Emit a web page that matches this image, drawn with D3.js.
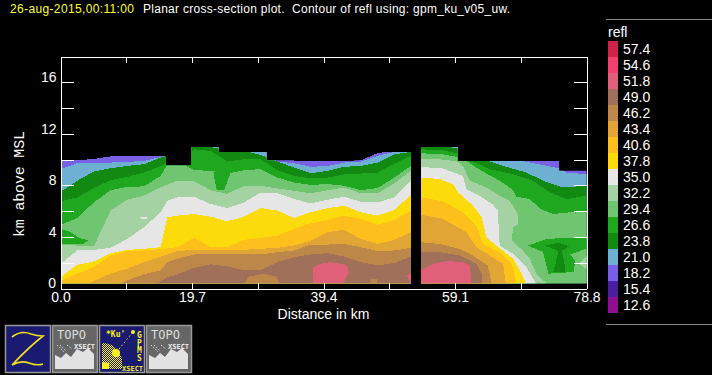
<!DOCTYPE html>
<html>
<head>
<meta charset="utf-8">
<script src="https://d3js.org/d3.v7.min.js"></script>
<style>
  html, body { margin: 0; padding: 0; background: #000; overflow: hidden; }
  text { font-family: "Liberation Sans", sans-serif; font-size: 14px; fill: #fff; white-space: pre; }
</style>
</head>
<body>
<script>
// legend
const levels = [12.6, 15.4, 18.2, 21.0, 23.8, 26.6, 29.4, 32.2, 35.0, 37.8, 40.6, 43.4, 46.2, 49.0, 51.8, 54.6, 57.4];
const levelColors = ["#900f90", "#4a1f9e", "#7a60e4", "#6eb0d2", "#128a12", "#1fa81f", "#70c670", "#a4d2a2",
  "#e6e6e6", "#fcdb0a", "#fcbf1c", "#e0a535", "#bc8748", "#a0705a", "#e0607a", "#f0406e", "#cf2449"];

const xTicks = [0, 9.85, 19.7, 29.55, 39.4, 49.25, 59.1, 68.95, 78.8];
const xLabels = [0, 19.7, 39.4, 59.1, 78.8];
const yTicks = [0, 2, 4, 6, 8, 10, 12, 14, 16, 18];
const yLabels = [0, 4, 8, 12, 16];

// section west of the gap: height in km of each contour level at every station
const westKm = [0, 2.5, 5, 7.5, 10, 12.5, 15, 16, 17.5, 20, 22.5, 25, 27.5, 30, 32.5, 35, 37.5, 40, 42.5, 45, 47.5, 50, 52.5];
const west18 = [9.95, 9.95, 10.05, 10.25, 10.27, 10.27, 10.3, 10.3, 10.3, 11.2, 11.2, 11.2, 11.2, 11.2, 11, 9.9, 9.9, 9.9, 9.9, 9.95, 10.5, 10.7, 10.7];
const west21 = [9.26, 9.72, 9.77, 9.77, 9.82, 9.9, 10.2, 10.3, 10.67, 11.2, 11.2, 11.2, 11.2, 11.2, 9.85, 9.72, 9.44, 9.51, 9.77, 9.85, 10.29, 10.6, 10.6];
const west23 = [7.5, 8.36, 9.08, 9.33, 9.51, 9.64, 10.16, 10.3, 10.4, 11.1, 10.98, 10.7, 10.7, 10.36, 9.85, 9.38, 8.94, 9.13, 9.44, 9.51, 9.77, 10.41, 10.6];
const west26 = [6.76, 7.07, 7.79, 8.41, 8.66, 9, 9.51, 9.7, 9.4, 10.8, 10.67, 9.85, 10.03, 10.03, 9.18, 8.74, 8.54, 8.61, 8.87, 8.92, 9, 9.69, 10.29];
const west29 = [4.93, 5.47, 6.68, 7.63, 7.89, 7.92, 8.74, 9.6, 9.9, 9.18, 9.13, 8.9, 9.18, 9.26, 8.61, 8.22, 8.04, 8.1, 7.97, 7.63, 7.79, 8.61, 9.51];
const west32 = [3.41, 3.33, 3.28, 6.04, 6.89, 7.2, 7.84, 8.05, 8.36, 8.3, 7.63, 7.33, 7.97, 7.97, 7.76, 7.58, 7.38, 7.63, 7.84, 7.38, 7.38, 8.15, 9.13];
const west35 = [1.92, 2.95, 3, 3.15, 3.85, 4.75, 5.91, 6.81, 7.07, 7.12, 6.55, 6.24, 6.68, 7.45, 7.38, 6.94, 6.6, 6.89, 7.12, 6.73, 6.68, 7.07, 8.36];
const west37 = [0.89, 1.84, 2.1, 2.74, 3, 3.08, 3.21, 5.52, 5.65, 5.78, 5.57, 5.21, 5.57, 6.24, 6.04, 5.47, 5.91, 6.24, 6.42, 5.91, 5.65, 6.09, 7.27];
const west40 = [0.58, 1.15, 1.66, 2.56, 2.87, 2.95, 3.05, 3.12, 3.21, 3.93, 3.21, 3.21, 3.77, 3.93, 4.1, 4.62, 5.06, 5.32, 5.65, 5.4, 4.93, 5.32, 6.04];
const west43 = [0, 0, 0.58, 1.15, 1.53, 2.05, 2.48, 2.65, 2.9, 3, 3, 3, 3, 3.08, 3.15, 3.33, 3.72, 4.37, 4.55, 3.85, 3.46, 3.77, 4.37];
const west46 = [0, 0, 0, 0, 0.63, 1.1, 1.41, 2.05, 2.3, 2.64, 2.69, 2.64, 2.64, 2.64, 2.82, 2.95, 3.41, 3.41, 3.46, 3.21, 2.9, 2.95, 3.15];
const west49 = [0, 0, 0, 0, 0, 0, 0.58, 0.85, 1.1, 1.6, 1.87, 1.71, 1.41, 1.41, 2.05, 2.43, 2.64, 2.74, 2.49, 2.05, 1.79, 1.97, 2.49];

// section east of the gap: boundaries run steep here so each level has its own stations
const east18Km = [54, 78.8];
const east18 = [11.2, 11.2];
const east21Km = [54, 59.5, 68.8, 70.8, 74.7, 75.8, 78.8];
const east21 = [11.2, 11.2, 9.95, 9.72, 9.33, 8.99, 8.87];
const east23Km = [54, 57.8, 58.3, 59.5, 60.8, 62.8, 64.1, 66.3, 69.8, 72.3, 75.3, 78.8];
const east23 = [11.2, 11.2, 10.98, 10.85, 10.67, 10.03, 9.9, 9.51, 9, 8.36, 7.84, 7.97];
const east26Km = [54, 57.3, 59.5, 61.1, 62.8, 64.3, 67.8, 70.8, 73.3, 75.8, 78.8];
const east26 = [10.8, 10.72, 10.46, 9.9, 9.64, 9.26, 8.87, 8.36, 7.46, 6.94, 7.2];
const east29Km = [54, 57.3, 59.5, 60.8, 62.3, 63.8, 65.8, 67.8, 68.3, 70.3, 71.9, 73.8, 78.8];
const east29 = [10.49, 10.41, 10.2, 9.9, 9.38, 8.92, 8.36, 7.64, 7.12, 6.94, 6.17, 5.78, 6.04];
const east32Km = [54, 57.3, 59.5, 60.3, 61.3, 63.8, 65.8, 67.3, 68.5, 68.8, 70.3, 71.3, 72.8];
const east32 = [10.08, 10, 9.85, 9.51, 8.36, 7.84, 7.2, 6.81, 5.78, 3.21, 2.31, 1.15, 0.4];
const east35Km = [54, 57.3, 60.3, 60.8, 62.8, 64.8, 65.5, 65.8, 67.8, 69.8, 71.2];
const east35 = [9.43, 9.31, 8.74, 7.71, 7.2, 6.5, 6.04, 3.33, 2.69, 1.66, 0.4];
const east37Km = [54, 56.8, 58.8, 59.6, 61.8, 63.1, 63.8, 65.3, 67.8, 69.1, 69.7];
const east37 = [8.61, 8.49, 8.1, 7.45, 6.42, 5.52, 3.98, 3.33, 2.31, 1.15, 0.4];
const east40Km = [54, 57.3, 60.3, 62.3, 63.3, 65.8, 67.6, 68.3];
const east40 = [7.07, 6.76, 5.91, 4.88, 3.46, 2.82, 1.92, 0.4];
const east43Km = [54, 57.3, 60.8, 62.3, 64.3, 66.3, 66.7];
const east43 = [5.73, 5.4, 4.37, 3.21, 2.56, 1.92, 0.4];
const east46Km = [54, 56.8, 59.8, 61.8, 64, 64.6];
const east46 = [3.59, 3.46, 3.08, 2.56, 1.79, 0.4];
const east49Km = [54, 56.8, 59.8, 62.3, 63.1, 63.2];
const east49 = [2.82, 2.82, 2.56, 1.92, 1.15, 0.4];
const east51Km = [54, 55.8, 57.9, 60.3, 61.3, 61.6];
const east51 = [1.41, 1.92, 2.13, 2.05, 1.79, 0.4];

// top of the echo, a step per scan block
const westTopKm = [0, 15.8, 19.6, 23.7, 30.9, 44.8, 52.5];
const westTop = [11.5, 9.54, 10.98, 10.6, 9.95, 10.6, 10.6];
const eastTopKm = [54, 59.5, 74.7, 78.8];
const eastTop = [10.98, 9.9, 9.13, 9.13];

// closed pockets that break the layering: [drawn after level, own level, km, height]
const pockets = [
  [29.4, 26.6, [0, 1.4, 2.9, 4.2, 3.4, 0], [4.65, 4.4, 3.9, 3.72, 3.46, 3.41]],
  [29.4, 26.6, [22.9, 23.4, 24.5, 25.6], [9, 7.64, 7.64, 9.13]],
  [29.4, 26.6, [70, 72.8, 78.8, 78.8, 76.3, 77.1, 76.9, 73.1, 72.3], [3.33, 3.85, 3.98, 3.08, 2.64, 2.18, 1.28, 1.15, 2.82]],
  [29.4, 23.8, [72.6, 74.6, 76.3, 75.1, 75.6, 75.6, 73.8, 74.1, 74.6], [3.33, 3.54, 3.28, 2.95, 1.66, 1.28, 1.28, 1.79, 2.9]],
  [29.4, 32.2, [78.8, 77.6, 78.8], [2.49, 1.92, 1.53]],
  [32.2, 29.4, [68.9, 67.8, 67.6, 68.9], [5.1, 4.75, 3.72, 3.1]],
  [35.0, 35.0, [11.1, 12.9, 12.9], [5.47, 5.55, 5.4]],
  [49.0, 46.2, [27.6, 28.1, 30.4, 32.4, 32.8], [0.4, 0.89, 1.15, 0.89, 0.4]],
  [49.0, 46.2, [46.4, 46.5, 47.4, 47.4], [0.4, 0.71, 0.71, 0.4]],
  [49.0, 51.8, [37.8, 37.9, 38.9, 40.4, 42.9, 43.2, 42.6, 42.4], [0.4, 1.66, 1.92, 2.05, 1.84, 1.28, 0.63, 0.4]],
  [49.0, 51.8, [51.8, 52.5, 52.5], [1.02, 1.15, 0.4]]
];

const westLayers = [[18.2, west18], [21.0, west21], [23.8, west23], [26.6, west26], [29.4, west29], [32.2, west32],
  [35.0, west35], [37.8, west37], [40.6, west40], [43.4, west43], [46.2, west46], [49.0, west49]];
const eastLayers = [[18.2, east18Km, east18], [21.0, east21Km, east21], [23.8, east23Km, east23], [26.6, east26Km, east26],
  [29.4, east29Km, east29], [32.2, east32Km, east32], [35.0, east35Km, east35], [37.8, east37Km, east37],
  [40.6, east40Km, east40], [43.4, east43Km, east43], [46.2, east46Km, east46], [49.0, east49Km, east49], [51.8, east51Km, east51]];

const width = 712;
const height = 375;
const bottomKm = 0.4;

const x = d3.scaleLinear().domain([0, 78.8]).range([60.5, 586.5]);
const y = d3.scaleLinear().domain([0, 18]).range([288.5, 56.5]);
const color = d3.scaleOrdinal().domain(levels).range(levelColors);

const svg = d3.select('body').append('svg')
  .attr('width', width)
  .attr('height', height)
  .style('display', 'block');

const zip = (km, h) => km.map((d, i) => [d, h[i]]);

const fillArea = d3.area()
  .x(d => x(d[0]))
  .y0(y(0))
  .y1(d => y(d[1]));
const stepArea = d3.area()
  .curve(d3.curveStepAfter)
  .x(d => x(d[0]))
  .y0(y(bottomKm))
  .y1(d => y(d[1]));
const outline = d3.line().x(d => x(d[0])).y(d => y(d[1]));

svg.append('clipPath').attr('id', 'west-clip')
  .append('path').attr('d', stepArea(zip(westTopKm, westTop)));
svg.append('clipPath').attr('id', 'east-clip')
  .append('path').attr('d', stepArea(zip(eastTopKm, eastTop)));

const plot = svg.append('g').attr('shape-rendering', 'crispEdges');
const westG = plot.append('g').attr('clip-path', 'url(#west-clip)');
const eastG = plot.append('g').attr('clip-path', 'url(#east-clip)');

const drawPockets = (level) => {
  pockets.filter(p => p[0] === level).forEach(p => {
    const g = p[2][0] < 53 ? westG : eastG;
    g.append('path')
      .attr('d', outline(zip(p[2], p[3])) + 'Z')
      .attr('fill', color(p[1]));
  });
};

levels.forEach(level => {
  const w = westLayers.find(d => d[0] === level);
  if (w) {
    westG.append('path').attr('d', fillArea(zip(westKm, w[1]))).attr('fill', color(level));
  }
  const e = eastLayers.find(d => d[0] === level);
  if (e) {
    eastG.append('path').attr('d', fillArea(zip(e[1], e[2]))).attr('fill', color(level));
  }
  drawPockets(level);
});

// frame, ticks on all four sides pointing in
const styleAxis = (g) => {
  g.selectAll('path, line').attr('stroke', '#fff').attr('shape-rendering', 'crispEdges');
  g.selectAll('text').attr('fill', '#fff').style('font-size', '14px')
    .style('font-family', '"Liberation Sans", sans-serif');
};
const xFormat = d => {
  const hit = xLabels.find(v => v === d);
  return hit === undefined ? '' : hit.toFixed(1);
};
const yFormat = d => (yLabels.includes(d) ? d : '');

svg.append('g')
  .attr('transform', `translate(0, ${y(0)})`)
  .call(d3.axisBottom(x).tickValues(xTicks).tickSizeInner(-6).tickSizeOuter(0).tickPadding(4).tickFormat(xFormat))
  .call(styleAxis);
svg.append('g')
  .attr('transform', `translate(0, ${y(18)})`)
  .call(d3.axisTop(x).tickValues(xTicks).tickSizeInner(-6).tickSizeOuter(0).tickFormat(''))
  .call(styleAxis);
svg.append('g')
  .attr('transform', `translate(${x(0)}, 0)`)
  .call(d3.axisLeft(y).tickValues(yTicks.slice(1, -1)).tickSizeInner(-13).tickSizeOuter(0).tickPadding(4).tickFormat(yFormat))
  .call(styleAxis)
  .call(g => g.selectAll('text').attr('dy', '-0.05em'));
svg.append('g')
  .attr('transform', `translate(${x(78.8)}, 0)`)
  .call(d3.axisRight(y).tickValues(yTicks.slice(1, -1)).tickSizeInner(-13).tickSizeOuter(0).tickFormat(''))
  .call(styleAxis);
// the zero label sits alone, there is no tick mark for it
svg.append('text')
  .attr('x', 56).attr('y', 288)
  .attr('text-anchor', 'end')
  .text('0');

svg.append('text')
  .attr('x', 323.5).attr('y', 319)
  .attr('text-anchor', 'middle')
  .text('Distance in km');

svg.append('text')
  .attr('transform', 'translate(24, 184) rotate(-90)')
  .attr('text-anchor', 'middle')
  .attr('textLength', 106)
  .style('font-family', '"Liberation Mono", monospace')
  .style('font-size', '15px')
  .text('km above MSL');

// title
svg.append('text')
  .attr('x', 10).attr('y', 13)
  .attr('textLength', 124)
  .style('font-size', '12px')
  .style('fill', '#ffff33')
  .text('26-aug-2015,00:11:00');
svg.append('text')
  .attr('x', 143).attr('y', 13)
  .attr('textLength', 367)
  .style('font-size', '12px')
  .text('Planar cross-section plot.  Contour of refl using: gpm_ku_v05_uw.');

// color key
const keyY = d3.scaleBand().domain(levels.slice().reverse()).range([41, 313]);
[19, 324].forEach(v => {
  svg.append('line')
    .attr('x1', 606).attr('x2', width)
    .attr('y1', v + 0.5).attr('y2', v + 0.5)
    .attr('stroke', '#888');
});
svg.append('text').attr('x', 608).attr('y', 37).text('refl');
const key = svg.append('g').selectAll('g').data(keyY.domain()).join('g');
key.append('rect')
  .attr('x', 608)
  .attr('y', d => keyY(d))
  .attr('width', 10)
  .attr('height', keyY.bandwidth())
  .attr('fill', d => color(d));
key.append('text')
  .attr('x', 623)
  .attr('y', d => keyY(d) + 13)
  .text(d => d.toFixed(1));

// toolbar buttons under the plot
const buttons = [
  { left: 5, fill: '#1a1a70', kind: 'z' },
  { left: 52, fill: '#666', kind: 'topo' },
  { left: 99, fill: '#1a1a70', kind: 'gpm' },
  { left: 146, fill: '#666', kind: 'topo' }
];
const smallText = (g, tx, ty, s, size, fill) => g.append('text')
  .attr('x', tx).attr('y', ty)
  .style('font-size', size + 'px')
  .style('font-family', '"DejaVu Sans Mono", monospace')
  .style('font-weight', 'bold')
  .style('fill', fill)
  .text(s);

const dither = svg.append('pattern').attr('id', 'dither')
  .attr('width', 2).attr('height', 2).attr('patternUnits', 'userSpaceOnUse');
dither.append('rect').attr('width', 1).attr('height', 1).attr('fill', '#f8f020');
dither.append('rect').attr('x', 1).attr('y', 1).attr('width', 1).attr('height', 1).attr('fill', '#f8f020');

buttons.forEach(b => {
  const g = svg.append('g').attr('transform', `translate(${b.left}, 325)`);
  g.append('rect').attr('x', 0.5).attr('y', 0.5).attr('width', 45).attr('height', 47)
    .attr('fill', b.fill).attr('stroke', '#999').attr('stroke-width', 1.5);
  if (b.kind === 'z') {
    g.append('path')
      .attr('d', 'M7 12 Q16 5 26 9 Q32 11 38 11 Q24 22 7 40 Q16 35 24 38 Q32 41 38 39')
      .attr('fill', 'none').attr('stroke', '#f0e020').attr('stroke-width', 1.6);
  }
  if (b.kind === 'topo') {
    g.append('path')
      .attr('d', 'M3 44 L3 30 L9 33 L14 28 L19 32 L25 24 L31 27 L36 23 L42 29 L42 44 Z')
      .attr('fill', '#e2e2e2');
    smallText(g, 5, 14, 'TOPO', 12, '#dcdcdc').style('font-weight', 'normal');
    smallText(g, 22, 24, 'XSECT', 7, '#eee');
    g.append('path').attr('d', 'M5 20 L12 27 M8 20 L14 26 M15 20 L20 24').attr('stroke', '#ddd')
      .attr('stroke-width', 1).attr('stroke-dasharray', '1.5 1.5');
  }
  if (b.kind === 'gpm') {
    g.append('path').attr('d', 'M3 44 L3 18 Q18 18 23 34 L23 44 Z').attr('fill', 'url(#dither)');
    g.append('path').attr('d', 'M3 44 L3 37 L10 38 L10 44 Z').attr('fill', '#f8f020');
    g.append('circle').attr('cx', 17).attr('cy', 28).attr('r', 4).attr('fill', '#f8f020');
    g.append('path').attr('d', 'M20 24 L34 7').attr('stroke', '#f8f020').attr('stroke-dasharray', '1.5 2.5');
    g.append('circle').attr('cx', 34).attr('cy', 7).attr('r', 2).attr('fill', '#f8f020');
    smallText(g, 7, 12, '*Ku\'', 8, '#f8f020');
    ['G', 'P', 'M', 'S'].forEach((c, i) => smallText(g, 38, 13 + i * 7.5, c, 8, '#f8f020'));
    smallText(g, 23, 46, 'XSECT', 7, '#f8f020');
  }
});
</script>
</body>
</html>
